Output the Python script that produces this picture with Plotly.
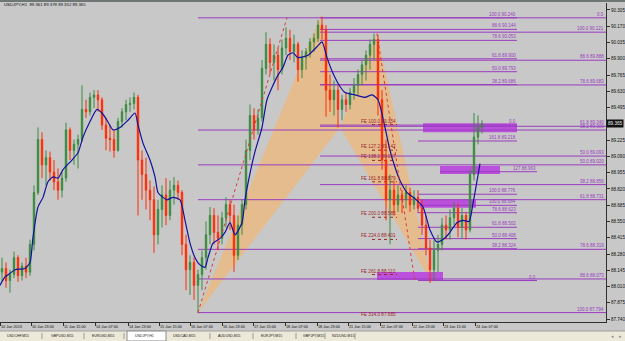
import plotly.graph_objects as go

# ---------------- data ----------------
# candle positions in H1-bar units (one candle = 2 hours)
bar_x = list(range(1, 242, 2))

open_ = [88.13, 88.16, 88.06, 88.11, 88.25, 88.10, 88.18, 88.13, 88.36, 88.79,
         89.23, 89.02, 89.08, 88.96, 88.88, 88.81, 88.91, 89.31, 89.14, 89.19,
         89.23, 89.48, 89.46, 89.58, 89.60, 89.56, 89.35, 89.24, 89.23, 89.14,
         89.38, 89.46, 89.52, 89.53, 89.58, 89.06, 88.94, 88.81, 88.73, 88.44,
         88.65, 88.77, 88.60, 88.81, 88.85, 88.79, 88.36, 88.15, 88.21, 88.02,
         88.11, 88.25, 88.44, 88.60, 88.46, 88.41, 88.58, 88.69, 88.60, 88.27,
         88.52, 88.69, 89.14, 89.43, 89.31, 89.41, 89.82, 90.02, 89.87, 89.93,
         89.81, 89.99, 90.07, 89.96, 90.02, 89.81, 89.91, 89.96, 90.04, 90.07,
         90.18, 90.14, 89.64, 89.56, 89.64, 89.48, 89.56, 89.52, 89.62, 89.68,
         89.77, 89.85, 89.93, 90.02, 90.06, 89.56, 89.06, 88.73, 88.81, 88.69,
         88.77, 88.73, 88.79, 88.69, 88.75, 88.66, 88.52, 88.33, 88.15, 88.31,
         88.36, 88.52, 88.48, 88.58, 88.66, 88.50, 88.60, 88.48, 88.94, 89.25,
         89.33]
high = [88.25, 88.21, 88.15, 88.30, 88.27, 88.21, 88.25, 88.40, 88.85, 89.33,
        89.29, 89.14, 89.13, 89.06, 88.99, 88.96, 89.37, 89.33, 89.23, 89.27,
        89.68, 89.56, 89.62, 89.64, 89.64, 89.58, 89.41, 89.35, 89.31, 89.41,
        89.49, 89.56, 89.58, 89.62, 89.60, 89.14, 89.08, 88.89, 88.84, 88.73,
        88.85, 88.91, 88.89, 88.92, 88.89, 88.81, 88.44, 88.27, 88.25, 88.15,
        88.31, 88.55, 88.67, 88.66, 88.60, 88.63, 88.75, 88.73, 88.69, 88.60,
        88.73, 89.23, 89.52, 89.49, 89.48, 89.89, 90.12, 90.07, 90.02, 89.99,
        90.06, 90.16, 90.14, 90.10, 90.04, 89.97, 89.99, 90.07, 90.11, 90.22,
        90.25, 90.18, 89.77, 89.72, 89.68, 89.60, 89.62, 89.66, 89.74, 89.81,
        89.89, 89.97, 90.06, 90.11, 90.10, 89.64, 89.23, 88.94, 88.89, 88.85,
        88.81, 88.85, 88.83, 88.81, 88.81, 88.73, 88.60, 88.40, 88.40, 88.44,
        88.58, 88.60, 88.65, 88.71, 88.70, 88.66, 88.63, 88.98, 89.45, 89.43,
        89.39]
low = [88.05, 88.00, 87.96, 88.08, 88.05, 88.06, 88.08, 88.10, 88.31, 88.77,
       88.91, 88.85, 88.89, 88.81, 88.73, 88.75, 88.88, 89.06, 89.02, 88.99,
       89.21, 89.41, 89.43, 89.49, 89.46, 89.31, 89.14, 89.13, 89.08, 89.13,
       89.33, 89.39, 89.46, 89.48, 88.60, 88.73, 88.65, 88.56, 88.29, 88.36,
       88.50, 88.52, 88.56, 88.69, 88.73, 88.27, 87.98, 87.94, 87.90, 87.79,
       87.98, 88.15, 88.36, 88.36, 88.31, 88.36, 88.50, 88.48, 88.13, 88.23,
       88.44, 88.65, 89.06, 89.23, 89.27, 89.38, 89.77, 89.77, 89.72, 89.64,
       89.77, 89.93, 89.89, 89.87, 89.71, 89.74, 89.81, 89.91, 89.96, 90.04,
       90.06, 89.42, 89.46, 89.43, 89.33, 89.39, 89.46, 89.48, 89.56, 89.60,
       89.68, 89.72, 89.81, 89.89, 89.43, 88.98, 88.56, 88.36, 88.60, 88.63,
       88.62, 88.66, 88.63, 88.65, 88.62, 88.44, 88.27, 88.04, 88.06, 88.13,
       88.31, 88.40, 88.40, 88.52, 88.42, 88.41, 88.40, 88.46, 88.89, 89.19,
       89.28]
close = [88.16, 88.06, 88.11, 88.25, 88.10, 88.18, 88.13, 88.36, 88.79, 89.23,
         89.02, 89.08, 88.96, 88.88, 88.81, 88.91, 89.31, 89.14, 89.19, 89.23,
         89.48, 89.46, 89.58, 89.60, 89.56, 89.35, 89.24, 89.23, 89.14, 89.38,
         89.46, 89.52, 89.53, 89.58, 89.06, 88.94, 88.81, 88.73, 88.44, 88.65,
         88.77, 88.60, 88.81, 88.85, 88.79, 88.36, 88.15, 88.21, 88.02, 88.11,
         88.25, 88.44, 88.60, 88.46, 88.41, 88.58, 88.69, 88.60, 88.27, 88.52,
         88.69, 89.14, 89.43, 89.31, 89.41, 89.82, 90.02, 89.87, 89.93, 89.81,
         89.99, 90.07, 89.96, 90.02, 89.81, 89.91, 89.96, 90.04, 90.07, 90.18,
         90.14, 89.64, 89.56, 89.64, 89.48, 89.56, 89.52, 89.62, 89.68, 89.77,
         89.85, 89.93, 90.02, 90.06, 89.56, 89.06, 88.73, 88.81, 88.69, 88.77,
         88.73, 88.79, 88.69, 88.75, 88.66, 88.52, 88.33, 88.15, 88.31, 88.36,
         88.52, 88.48, 88.58, 88.66, 88.50, 88.60, 88.48, 88.94, 89.25, 89.33,
         89.36]

# moving average (blue line)
ma_x = [0, 2.5, 5, 7.5, 12.5, 15, 16.5, 19, 21.5, 24, 26.5, 29, 31.5, 36, 39, 41.5,
        45, 48.5, 51, 53.5, 56.5, 60, 64, 67.5, 69, 71.5, 75, 77.5, 79, 81.5, 83.5,
        86.5, 90, 92.5, 95, 97.5, 100, 102.5, 104, 106.5, 110, 112.5, 115, 117.5,
        121, 122.5, 125, 127.5, 131, 133.5, 138.5, 141.5, 144, 146.5, 149, 154,
        158.5, 161, 163.5, 166.5, 170, 172.5, 177.5, 182.5, 186, 189, 192.5, 195,
        197.5, 200, 203.5, 207.5, 211.5, 215, 218.5, 221.5, 224, 228.5, 231.5,
        234.5, 236.5, 240]
ma_y = [88.02, 88.09, 88.12, 88.15, 88.16, 88.21, 88.42, 88.67, 88.75, 88.88,
        88.92, 88.91, 88.98, 89.06, 89.12, 89.25, 89.38, 89.48, 89.45, 89.39,
        89.31, 89.33, 89.39, 89.45, 89.35, 89.20, 89.06, 88.92, 88.79, 88.75,
        88.73, 88.75, 88.73, 88.56, 88.37, 88.25, 88.19, 88.17, 88.25, 88.37,
        88.41, 88.46, 88.54, 88.44, 88.54, 88.73, 88.95, 89.13, 89.33, 89.56,
        89.75, 89.83, 89.93, 89.95, 89.91, 89.93, 90.00, 90.04, 89.91, 89.78,
        89.67, 89.62, 89.60, 89.58, 89.60, 89.56, 89.33, 89.14, 89.00, 88.89,
        88.79, 88.74, 88.67, 88.48, 88.38, 88.40, 88.44, 88.54, 88.56, 88.55,
        88.70, 89.03]

# harmonic pattern pivots X, A, B, C, D
pat_x = [99, 160, 170, 188.5, 216]
pat_y = [87.794, 90.240, 89.33, 90.11, 88.04]

# fibonacci levels: price, start bar, end bar, label
fib_price = [90.240, 90.240, 90.144, 90.121, 90.053, 89.900, 89.888, 89.793,
             89.686, 89.683, 89.350, 89.340, 89.309, 89.218, 89.093, 89.020,
             88.963, 88.856, 88.776, 88.731, 88.684, 88.623, 88.502, 88.408,
             88.324, 88.319, 88.073, 88.060, 87.794]
fib_x0 = [99, 160, 160, 160, 160, 160, 160, 160,
          160, 160, 160, 160, 99, 209, 160, 99,
          220, 160, 209, 99, 208.5, 209, 209, 209,
          209, 99, 99, 209, 99]
fib_x1 = [303, 258.5, 258.5, 303, 258.5, 258.5, 303, 258.5,
          258.5, 303, 258.5, 303, 303, 258.5, 303, 303,
          268.5, 303, 258.5, 303, 258.5, 258.5, 258.5, 258.5,
          258.5, 303, 303, 268.5, 303]
fib_label = ["0.0", "100.0 90.240", "88.6 90.144", "100.0 90.121", "78.6 90.053",
             "61.8 89.900", "88.6 89.888", "50.0 89.793", "38.2 89.686", "78.6 89.683",
             "0.0", "61.8 89.340", "38.2 89.309", "161.8 89.218", "50.0 89.093",
             "50.0 89.020", "127 88.963", "38.2 88.856", "100.0 88.776", "61.8 88.731",
             "100.0 88.684", "78.6 88.623", "61.8 88.502", "50.0 88.408", "38.2 88.324",
             "78.6 88.319", "88.6 88.073", "0.0", "100.0 87.794"]

# highlighted zones: x0, x1, top, bottom
zone_x0 = [211.5, 220, 210, 188.5]
zone_x1 = [258.5, 250, 238, 221.5]
zone_top = [89.365, 89.010, 88.730, 88.130]
zone_bot = [89.290, 88.945, 88.665, 88.065]

# fibonacci expansion levels
fe_price = [89.354, 89.142, 89.057, 88.879, 88.585, 88.401, 88.110, 87.685]
fe_label = ["FE 100.0 89.354", "FE 127.2 89.142", "FE 138.2 89.057", "FE 161.8 88.879",
            "FE 200.0 88.585", "FE 224.0 88.401", "FE 261.8 88.110", "FE 314.0 87.685"]
fe_x0, fe_x1 = 186, 198.5

# dotted projection lines: (x0, y0, x1, y1)
dot_x0 = [99, 188.5]
dot_y0 = [87.794, 90.11]
dot_x1 = [143.5, 207.5]
dot_y1 = [90.240, 88.05]

# axes
x_tick_pos = [0, 15.5, 31.5, 47.5, 64, 79.5, 95, 111, 126.5, 142.5, 158.5, 174,
              190, 206, 221.5, 237.5]
x_tick_text = ["10 Jan 2013", "10 Jan 23:00", "11 Jan 15:00", "14 Jan 07:00",
               "14 Jan 23:00", "15 Jan 15:00", "16 Jan 07:00", "16 Jan 23:00",
               "17 Jan 15:00", "18 Jan 07:00", "18 Jan 23:00", "21 Jan 15:00",
               "22 Jan 07:00", "22 Jan 23:00", "23 Jan 15:00", "24 Jan 07:00"]
y_ticks = [90.305, 90.170, 90.035, 89.900, 89.765, 89.630, 89.495, 89.360, 89.225,
           89.090, 88.955, 88.820, 88.685, 88.550, 88.415, 88.280, 88.145, 88.010,
           87.875, 87.740]

tabs = ["USDCHF,M15", "GBPUSD,M15", "EURUSD,M15", "USDJPY,H1", "USDCAD,M15",
        "AUDUSD,M15", "EURJPY,M15", "GBPJPY,M15", "NZDUSD,M15"]

title_text = "USDJPY,H1  89.361 89.378 89.352 89.365"
last_price = "89.365"

# ---------------- styling ----------------
BG = "#c8c8c8"
FIB = "#9a3cc0"
ZONE = "#bb50dd"
TRI = "#e4bc8e"
FE_COL = "#a02828"
FONT = "Liberation Sans"
W, H = 625, 341
ML, MR, MT, MB = 0, 19, 3, 19
PW, PH = W - ML - MR, H - MT - MB
X_RANGE = [0, 303]
Y_RANGE = [87.716, 90.363]


def px(xp):
    return (xp - ML) / PW


def py(yp):
    return (H - MB - yp) / PH


fig = go.Figure()
shapes = []
annotations = []

# pattern triangles XAB and BCD
for a, b, c in [(0, 1, 2), (2, 3, 4)]:
    path = "M {},{} L {},{} L {},{} Z".format(pat_x[a], pat_y[a], pat_x[b], pat_y[b],
                                            pat_x[c], pat_y[c])
    shapes.append(dict(type="path", path=path, xref="x", yref="y", layer="below",
                       fillcolor=TRI, line=dict(width=0)))

# zones
for x0, x1, t, b in zip(zone_x0, zone_x1, zone_top, zone_bot):
    shapes.append(dict(type="rect", xref="x", yref="y", x0=x0, x1=x1, y0=b, y1=t,
                       layer="below", fillcolor=ZONE, line=dict(width=0)))

# fib lines + labels
for p, x0, x1, lab in zip(fib_price, fib_x0, fib_x1, fib_label):
    shapes.append(dict(type="line", xref="x", yref="y", x0=x0, x1=x1, y0=p, y1=p,
                       layer="below", line=dict(color=FIB, width=1)))
    annotations.append(dict(x=min(x1, 302.5), y=p, xref="x", yref="y", text=lab,
                            showarrow=False, xanchor="right", yanchor="bottom",
                            borderpad=0, font=dict(size=4.5, color=FIB, family=FONT)))

# FE labels with dotted underline
for p, lab in zip(fe_price, fe_label):
    yy = max(p, Y_RANGE[0] + 0.035)
    shapes.append(dict(type="line", xref="x", yref="y", x0=fe_x0, x1=fe_x1, y0=p, y1=p,
                       layer="below", line=dict(color=FE_COL, width=1, dash="dot")))
    annotations.append(dict(x=fe_x1, y=yy, xref="x", yref="y", text=lab,
                            showarrow=False, xanchor="right", yanchor="bottom",
                            borderpad=0, font=dict(size=4.7, color=FE_COL, family=FONT)))

# dotted projection lines
for x0, y0, x1, y1 in zip(dot_x0, dot_y0, dot_x1, dot_y1):
    shapes.append(dict(type="line", xref="x", yref="y", x0=x0, y0=y0, x1=x1, y1=y1,
                       line=dict(color="#d83c3c", width=1, dash="dot")))

# candles
fig.add_trace(go.Candlestick(
    x=bar_x, open=open_, high=high, low=low, close=close,
    increasing=dict(line=dict(color="#3a8a3e", width=1), fillcolor="#3a8a3e"),
    decreasing=dict(line=dict(color="#ff2a00", width=1), fillcolor="#ff2a00"),
    whiskerwidth=0, hoverinfo="skip", showlegend=False))

# moving average
fig.add_trace(go.Scatter(x=ma_x, y=ma_y, mode="lines",
                         line=dict(color="#12129c", width=1.2, shape="spline",
                                   smoothing=0.6),
                         hoverinfo="skip", showlegend=False))

# chart title (top-left)
annotations.append(dict(x=px(2), y=py(4.5), xref="paper", yref="paper", text=title_text,
                        showarrow=False, xanchor="left", yanchor="middle",
                        font=dict(size=4.3, color="#101010", family=FONT)))

# current price box (covers the axis label at its level, as in the terminal)
annotations.append(dict(x=1.0, y=close[-1], xref="paper", yref="y", text=last_price,
                        showarrow=False, xanchor="left", yanchor="middle",
                        bgcolor="#111111", borderpad=1,
                        font=dict(size=4.6, color="#f0f0f0", family=FONT)))

# top border
shapes.append(dict(type="rect", xref="paper", yref="paper", x0=px(0), x1=px(W),
                   y0=py(2), y1=py(0), fillcolor="#6e7676", line=dict(width=0)))

# tab bar
shapes.append(dict(type="rect", xref="paper", yref="paper", x0=px(0), x1=px(W),
                   y0=py(H), y1=py(331), fillcolor="#ece9d8", line=dict(width=0)))
shapes.append(dict(type="line", xref="paper", yref="paper", x0=px(0), x1=px(W),
                   y0=py(331), y1=py(331), line=dict(color="#a0a0a0", width=1)))
shapes.append(dict(type="rect", xref="paper", yref="paper", x0=px(127), x1=px(166),
                   y0=py(H), y1=py(331), fillcolor="#ffffff",
                   line=dict(color="#8a8a8a", width=1)))
tab_left = [5, 49, 90, 133, 171, 216, 259, 301, 330]
sep_pos = [42, 84, 124, 210, 253, 296, 325, 355]
for t, xl in zip(tabs, tab_left):
    annotations.append(dict(x=px(xl), y=py(336), xref="paper", yref="paper", text=t,
                            showarrow=False, xanchor="left", yanchor="middle",
                            font=dict(size=3.5, color="#202020", family=FONT)))
for s in sep_pos:
    shapes.append(dict(type="line", xref="paper", yref="paper", x0=px(s), x1=px(s),
                       y0=py(339), y1=py(333), line=dict(color="#9a9a9a", width=1)))
for xa, sym in [(612, "◂"), (620, "▸")]:
    annotations.append(dict(x=px(xa), y=py(336), xref="paper", yref="paper", text=sym,
                            showarrow=False, xanchor="center", yanchor="middle",
                            font=dict(size=5, color="#909090", family=FONT)))

y_tick_text = ["{:.3f}".format(v) if "{:.3f}".format(v) != "89.360" else ""
               for v in y_ticks]

fig.update_layout(
    width=W, height=H,
    margin=dict(l=ML, r=MR, t=MT, b=MB, pad=0),
    paper_bgcolor=BG, plot_bgcolor=BG,
    showlegend=False,
    boxgap=0.5,
    shapes=shapes, annotations=annotations,
    xaxis=dict(range=X_RANGE, showgrid=False, zeroline=False, showline=True,
               linecolor="#303030", linewidth=1, ticks="outside", ticklen=3,
               tickcolor="#303030", tickvals=x_tick_pos, ticktext=x_tick_text,
               ticklabelposition="outside right",
               tickfont=dict(size=3.8, color="#101010", family=FONT),
               rangeslider=dict(visible=False), fixedrange=True),
    yaxis=dict(range=Y_RANGE, side="right", showgrid=False, zeroline=False,
               showline=True, linecolor="#303030", linewidth=1, ticks="outside",
               ticklen=3, tickcolor="#303030", tickvals=y_ticks,
               ticktext=y_tick_text,
               tickfont=dict(size=4.6, color="#101010", family=FONT),
               fixedrange=True),
)

fig.write_html("out.html")
